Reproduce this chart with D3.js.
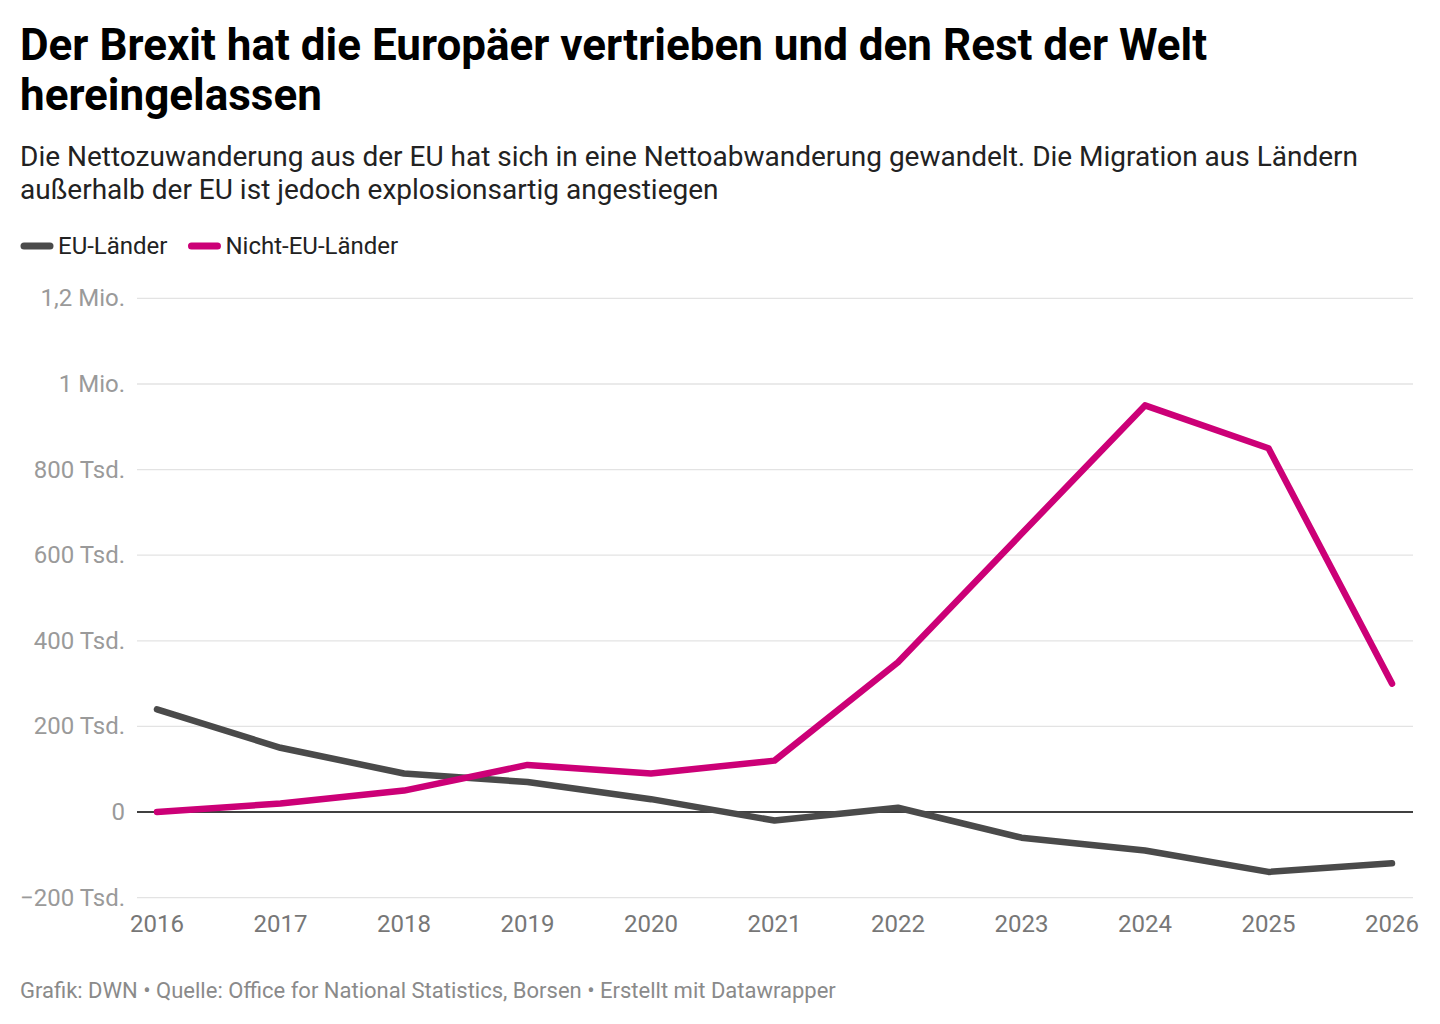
<!DOCTYPE html>
<html><head><meta charset="utf-8">
<script src="https://cdn.jsdelivr.net/npm/d3@7"></script>
<style>
body{margin:0;background:#fff;font-family:Roboto,sans-serif;}
</style></head>
<body><svg id="c" width="1440" height="1024"></svg>
<script>
const years = [2016,2017,2018,2019,2020,2021,2022,2023,2024,2025,2026];
const euValues = [240,150,90,70,30,-20,10,-60,-90,-140,-120];
const nonEuValues = [0,20,50,110,90,120,350,650,950,850,300];
const yTicks = [-200,0,200,400,600,800,1000,1200];
const yTickLabels = ["\u2212200 Tsd.","0","200 Tsd.","400 Tsd.","600 Tsd.","800 Tsd.","1 Mio.","1,2 Mio."];
const seriesNames = ["EU-Länder","Nicht-EU-Länder"];
const seriesColors = ["#4a4a4a","#cc0077"];

const svg = d3.select("#c");
svg.append("text").attr("x",20).attr("y",60).attr("font-size",44).attr("font-weight",700).attr("fill","#000")
  .text("Der Brexit hat die Europäer vertrieben und den Rest der Welt");
svg.append("text").attr("x",20).attr("y",110).attr("font-size",44).attr("font-weight",700).attr("fill","#000")
  .text("hereingelassen");
svg.append("text").attr("x",20).attr("y",166).attr("font-size",28).attr("fill","#222")
  .text("Die Nettozuwanderung aus der EU hat sich in eine Nettoabwanderung gewandelt. Die Migration aus Ländern");
svg.append("text").attr("x",20).attr("y",199).attr("font-size",28).attr("fill","#222")
  .text("außerhalb der EU ist jedoch explosionsartig angestiegen");

// legend
const leg = svg.append("g");
let lx = 20;
seriesNames.forEach((n,i)=>{
  leg.append("line").attr("x1",lx+4).attr("x2",lx+30).attr("y1",246).attr("y2",246)
    .attr("stroke",seriesColors[i]).attr("stroke-width",7).attr("stroke-linecap","round");
  const t = leg.append("text").attr("x",lx+38).attr("y",254).attr("font-size",24).attr("fill","#222").text(n);
  lx += 38 + t.node().getComputedTextLength() + 20;
});

const x = d3.scaleLinear().domain([2016,2026]).range([157,1392]);
const y = d3.scaleLinear().domain([0,1000]).range([812,384]);

const g = svg.append("g");
g.selectAll("line.grid").data(yTicks).join("line")
  .attr("x1",137).attr("x2",1413).attr("y1",d=>y(d)).attr("y2",d=>y(d))
  .attr("stroke",d=>d===0?"#000":"#e3e3e3").attr("stroke-width",d=>d===0?1.6:1.3);
g.selectAll("text.yl").data(yTicks).join("text")
  .attr("x",125).attr("y",d=>y(d)+8).attr("text-anchor","end").attr("font-size",24).attr("fill","#9a9a9a")
  .text((d,i)=>yTickLabels[i]);
g.selectAll("text.xl").data(years).join("text")
  .attr("x",d=>x(d)).attr("y",932).attr("text-anchor","middle").attr("font-size",24).attr("fill","#777")
  .text(d=>d);

const line = d3.line().x((d,i)=>x(years[i])).y(d=>y(d));
[euValues,nonEuValues].forEach((vals,i)=>{
  g.append("path").attr("d",line(vals)).attr("fill","none").attr("stroke",seriesColors[i])
    .attr("stroke-width",6.5).attr("stroke-linecap","round").attr("stroke-linejoin","round");
});

svg.append("text").attr("x",20).attr("y",998).attr("font-size",22).attr("fill","#8a8a8a")
  .text("Grafik: DWN • Quelle: Office for National Statistics, Borsen • Erstellt mit Datawrapper");
</script></body></html>
